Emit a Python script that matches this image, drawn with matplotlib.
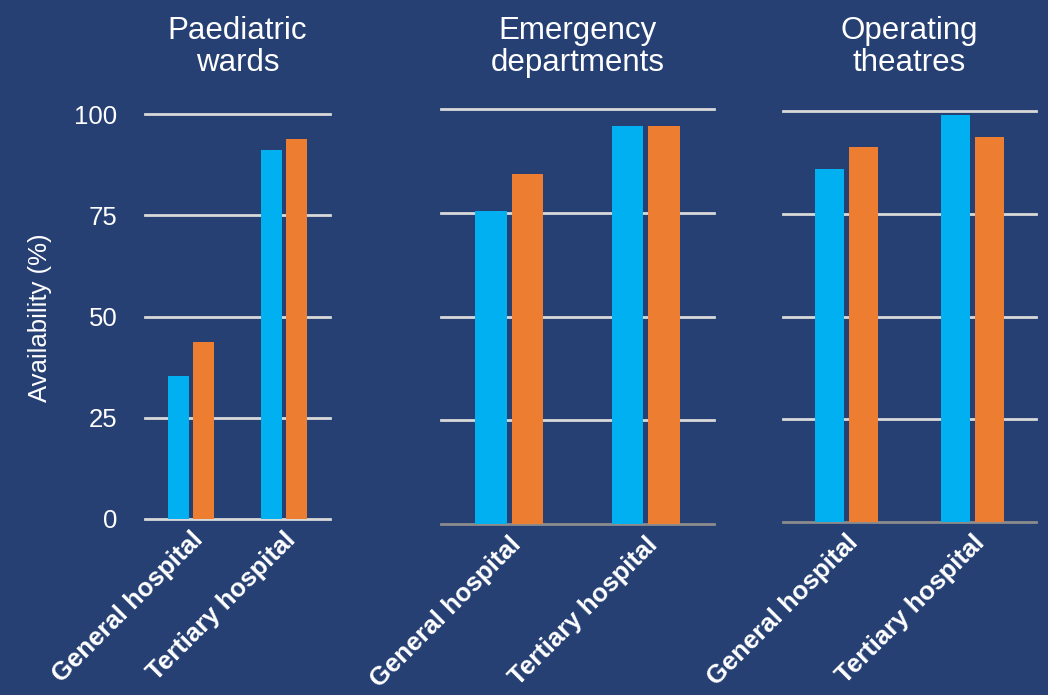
import matplotlib.pyplot as plt
import numpy as np

# values (availability, %)
panels = ['Paediatric\nwards', 'Emergency\ndepartments', 'Operating\ntheatres']
hospitals = ['General hospital', 'Tertiary hospital']
blue_values = [[35.3, 91.1], [75.5, 95.8], [86.0, 99.0]]
orange_values = [[43.7, 93.8], [84.3, 95.8], [91.2, 93.7]]
y_ticks = [0, 25, 50, 75, 100]

BG = '#264073'
BLUE = '#00B0F0'
ORANGE = '#ED7D31'
GRID = '#D9D9D9'

plt.rcParams['font.family'] = ['Liberation Sans', 'DejaVu Sans']

fig = plt.figure(figsize=(10.48, 6.95), dpi=100, facecolor=BG)

# axes boxes in pixels: left, right, y of 0, y of 100
boxes = [(145, 330, 519, 114), (441, 714, 524, 109), (783, 1036, 522, 111)]
W, H = 1048, 695

x = np.arange(len(hospitals))
bar_w = 0.23
off = 0.135

for i, (left, right, y0, y100) in enumerate(boxes):
    ax = fig.add_axes([left / W, (H - y0) / H, (right - left) / W, (y0 - y100) / H])
    ax.set_facecolor(BG)
    for s in ax.spines.values():
        s.set_visible(False)
    base_col = GRID if i == 0 else '#8C8C8C'
    for t in y_ticks:
        ax.axhline(t, color=base_col if t == 0 else GRID, lw=2, zorder=1, clip_on=False)
    ax.bar(x - off, blue_values[i], bar_w, color=BLUE, zorder=2)
    ax.bar(x + off, orange_values[i], bar_w, color=ORANGE, zorder=2)
    ax.set_xlim(-0.5, 1.5)
    ax.set_ylim(0, 100)
    ax.set_xticks(x)
    ax.set_xticklabels(hospitals, rotation=45, ha='right', rotation_mode='anchor',
                       fontsize=18.5, fontweight='bold', color='white')
    ax.tick_params(axis='x', length=0, pad=6)
    if i == 0:
        ax.set_yticks(y_ticks)
        ax.tick_params(axis='y', length=0, pad=20, labelsize=18.5, labelcolor='white')
    else:
        ax.set_yticks([])
    fig.text((left + right) / 2 / W, (H - 47) / H, panels[i], ha='center', va='center',
             fontsize=22.5, color='white', linespacing=1.1)

fig.text(40 / W, (H - 318) / H, 'Availability (%)', rotation=90, ha='center', va='center',
         fontsize=18.5, color='white')

fig.savefig('out.png', dpi=100, facecolor=BG)
